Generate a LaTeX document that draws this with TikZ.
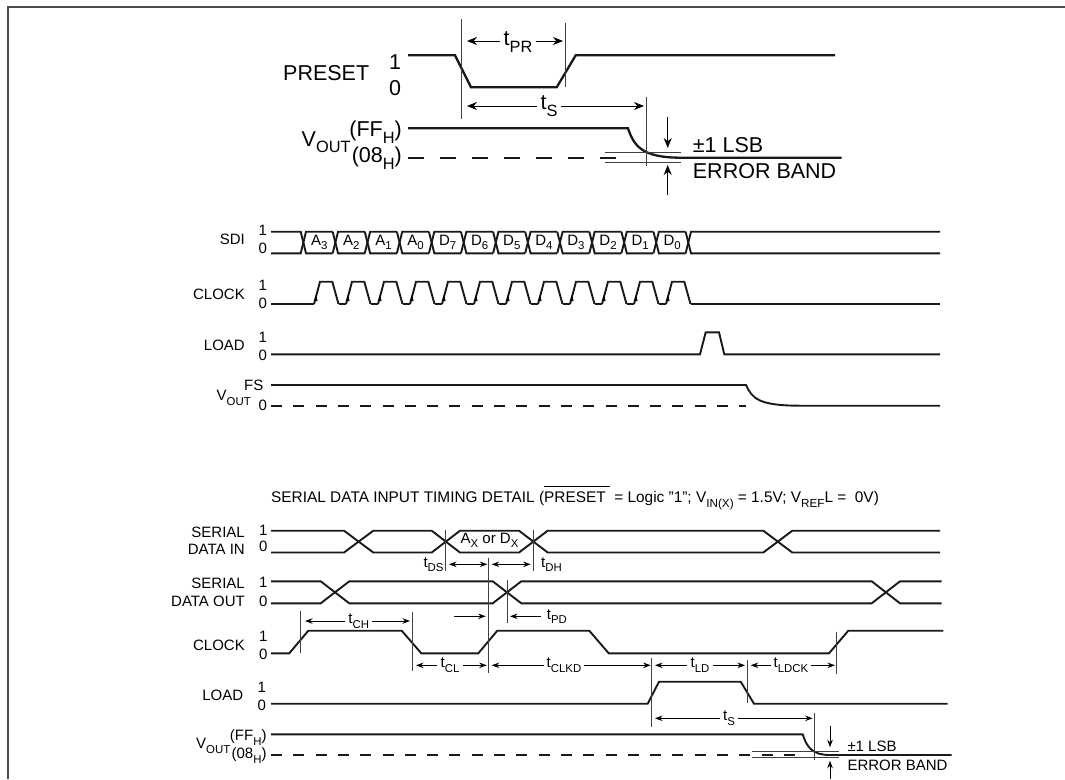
\documentclass[tikz,border=0pt]{standalone}
\usepackage{fontspec}
\usepackage{graphicx}
\setmainfont{Liberation Sans}
\usetikzlibrary{arrows.meta}
\newcommand{\lowsub}[1]{\raisebox{-0.3em}{\scalebox{0.76}{#1}}}
\tikzset{
	bigtext/.style={inner sep=0pt,font=\fontsize{21.5}{24}\selectfont},
	midtext/.style={inner sep=0pt,font=\fontsize{15}{18}\selectfont},
	titletext/.style={inner sep=0pt,font=\fontsize{15.4}{18}\selectfont},
	bigdim/.style={inner sep=3pt,font=\fontsize{21.5}{24}\selectfont},
	middim/.style={inner sep=3pt,font=\fontsize{15}{18}\selectfont},
	wave/.style={line width=1.9pt,line join=miter,black!90},
	bigwave/.style={line width=2.3pt,line join=miter,black!90},
	marker/.style={line width=1pt,black!75},
	bigtip/.style={line width=1pt,-{Stealth[length=10pt,width=8pt]}},
	smalltip/.style={line width=1pt,-{Stealth[length=7.5pt,width=5.5pt]}},
	bothtip/.style={line width=1pt,{Stealth[length=7.5pt,width=5.5pt]}-{Stealth[length=7.5pt,width=5.5pt]}},
}
\begin{document}
\begin{tikzpicture}[x=1pt,y=-1pt]
	\useasboundingbox (0,0) rectangle (1065,779);
	\draw[line width=2pt,black!70] (8,779) -- (8,6.5) -- (1065,6.5);

	\draw[bigwave] (408,55.3) -- (455,55.3) -- (471,87.3) -- (556.7,87.3) -- (575.7,55.3) -- (835,55.3);
	\draw[bigwave] (408,128.3) -- (628,128.3) .. controls (634,146) and (642,157.7) .. (681,157.7) -- (841.7,157.7);
	\draw[bigwave,dash pattern=on 16pt off 16pt] (408,157.7) -- (617,157.7);
	\draw[marker] (461.7,19.3) -- (461.7,118.7);
	\draw[marker] (565.3,22.7) -- (565.3,87);
	\draw[marker] (646,97) -- (646,166);
	\draw[marker] (605,152.5) -- (681,152.5);
	\draw[marker] (605,162.2) -- (681,162.2);
	\node[bigtext,anchor=west] (presetname) at (283,73) {PRESET};
	\node[bigtext] (presethigh) at (395,62.5) {1};
	\node[bigtext] (presetlow) at (395,88) {0};
	\node[bigtext,anchor=west] (voutname) at (301.5,142) {V\lowsub{OUT}};
	\node[bigtext,anchor=east] (vouthigh) at (402,132) {(FF\lowsub{H})};
	\node[bigtext,anchor=east] (voutlow) at (402,158) {(08\lowsub{H})};
	\node[bigdim] (tpr) at (518,42) {t\lowsub{PR}};
	\coordinate (prleft) at (467,41);
	\coordinate (prright) at (563,41);
	\draw[bigtip] (tpr.west |- prleft) -- (prleft);
	\draw[bigtip] (tpr.east |- prright) -- (prright);
	\node[bigdim] (tstop) at (549,106) {t\lowsub{S}};
	\coordinate (stopleft) at (467,106);
	\coordinate (stopright) at (644,106);
	\draw[bigtip] (tstop.west |- stopleft) -- (stopleft);
	\draw[bigtip] (tstop.east |- stopright) -- (stopright);
	\node[bigtext,anchor=west] (lsbtop) at (692.7,145) {±1 LSB};
	\node[bigtext,anchor=west] (bandtop) at (692.7,171) {ERROR BAND};
	\coordinate (bandup) at (667.7,116.7);
	\coordinate (bandupend) at (667.7,148);
	\coordinate (banddown) at (667.7,195);
	\coordinate (banddownend) at (667.7,165);
	\draw[bigtip] (bandup) -- (bandupend);
	\draw[bigtip] (banddown) -- (banddownend);

	\draw[wave] (271,231.7) -- (300.7,231.7) -- (306,253.3) -- (332.7,253.3);
	\draw[wave] (271,253.3) -- (300.7,253.3) -- (306,231.7) -- (332.7,231.7);
	\foreach \i in {1,...,11}
	{
		\pgfmathsetmacro{\xi}{303.3+32.08*\i};
		\pgfmathsetmacro{\xl}{\xi-2.7};
		\pgfmathsetmacro{\xr}{\xi+2.7};
		\pgfmathsetmacro{\xn}{\xi+32.08-2.7};
		\draw[wave] (\xl,231.7) -- (\xr,253.3) -- (\xn,253.3);
		\draw[wave] (\xl,253.3) -- (\xr,231.7) -- (\xn,231.7);
	}
	\draw[wave] (685.6,231.7) -- (691,253.3) -- (940,253.3);
	\draw[wave] (685.6,253.3) -- (691,231.7) -- (940,231.7);
	\foreach \i/\cell in {0/A\lowsub{3},1/A\lowsub{2},2/A\lowsub{1},3/A\lowsub{0},4/D\lowsub{7},5/D\lowsub{6},6/D\lowsub{5},7/D\lowsub{4},8/D\lowsub{3},9/D\lowsub{2},10/D\lowsub{1},11/D\lowsub{0}}
	{
		\pgfmathsetmacro{\xi}{319.3+32.08*\i};
		\node[midtext] (sdicell\i) at (\xi,242.5) {\cell};
	}
	\draw[wave] (271,304) -- (314,304);
	\foreach \i in {0,...,11}
	{
		\pgfmathsetmacro{\xa}{314+32*\i};
		\pgfmathsetmacro{\xb}{320+32*\i};
		\pgfmathsetmacro{\xc}{332.3+32*\i};
		\pgfmathsetmacro{\xd}{338.5+32*\i};
		\pgfmathsetmacro{\xe}{346+32*\i};
		\pgfmathsetmacro{\xt}{316.2+32*\i};
		\draw[wave] (\xa,304) -- (\xb,281.7) -- (\xc,281.7) -- (\xd,304);
		\ifnum\i<11 \draw[wave] (\xd,304) -- (\xe,304); \fi
		\fill (\xt,295) -- (\xt-2.2,301) -- (\xt+1.4,301) -- cycle;
	}
	\draw[wave] (690.5,304) -- (940,304);
	\draw[wave] (271,354.3) -- (700,354.3) -- (705.7,332.3) -- (719,332.3) -- (724.3,354.3) -- (940,354.3);
	\draw[wave] (271,385) -- (746,385) .. controls (752,398) and (758,405.7) .. (800,405.7) -- (940,405.7);
	\draw[wave,dash pattern=on 11pt off 11.3pt] (271,405.7) -- (746,405.7);
	\foreach \nm/\txt/\ya/\yb/\yc in {sdi/SDI/230/248/239,clk/CLOCK/285/303/294,load/LOAD/337/355/345}
	{
		\node[midtext] (\nm high) at (262.7,\ya) {1};
		\node[midtext] (\nm low) at (262.7,\yb) {0};
		\node[midtext,anchor=east] (\nm name) at (245,\yc) {\txt};
	}
	\node[midtext,anchor=east] (midfs) at (263.5,385.5) {FS};
	\node[midtext] (midzero) at (262.7,405) {0};
	\node[midtext,anchor=east] (midvout) at (251,398) {V\lowsub{OUT}};

	\node[titletext,anchor=base west] (detailtitle) at (271,502.5) {SERIAL DATA INPUT TIMING DETAIL ($\overline{\mbox{\rule{0pt}{15pt}PRESET\ }}$\ = Logic "1"; V\lowsub{IN(X)} = 1.5V; V\lowsub{REF}L =\ \ 0V)};

	\draw[wave] (271,552.5) -- (344,552.5) -- (373.3,530.7) -- (431.7,530.7) -- (460,552.5) -- (519,552.5) -- (547.7,530.7) -- (763.3,530.7) -- (792.3,552.5) -- (940,552.5);
	\draw[wave] (271,530.7) -- (344,530.7) -- (373.3,552.5) -- (431.7,552.5) -- (460,530.7) -- (519,530.7) -- (547.7,552.5) -- (763.3,552.5) -- (792.3,530.7) -- (940,530.7);
	\draw[wave] (271,581.3) -- (320.7,581.3) -- (349.3,603.3) -- (492.7,603.3) -- (521.3,581.3) -- (871.7,581.3) -- (900,603.3) -- (941.7,603.3);
	\draw[wave] (271,603.3) -- (320.7,603.3) -- (349.3,581.3) -- (492.7,581.3) -- (521.3,603.3) -- (871.7,603.3) -- (900,581.3) -- (941.7,581.3);
	\draw[wave] (271,653.3) -- (289.3,653.3) -- (308.3,630.7) -- (401.7,630.7) -- (421.3,653.3) -- (478.3,653.3) -- (497.3,630.7) -- (589.3,630.7) -- (608.7,653.3) -- (829,653.3) -- (848.3,630.7) -- (943.3,630.7);
	\draw[wave] (271,703.7) -- (647.7,703.7) -- (659,681.7) -- (740.7,681.7) -- (754,703.7) -- (947.7,703.7);
	\draw[wave] (271,734.3) -- (802.7,734.3) .. controls (807,748) and (813,755) .. (830,755) -- (951.7,755);
	\draw[wave,dash pattern=on 11pt off 11.3pt] (271,755) -- (797,755);
	\foreach \px/\ya/\yb in {300/610.7/653.3,412.3/612.3/671.3,445.7/530/570.7,533.3/530/570.7,488.7/558.3/673.3,507/580/622.7,651.7/658.3/727.3,747.3/660/702.7,836.3/631.7/674,814.7/712.7/760}
	{
		\draw[marker] (\px,\ya) -- (\px,\yb);
	}
	\draw[marker] (752.3,751) -- (839,751);
	\draw[marker] (752.3,757.7) -- (839,757.7);
	\node[midtext] (axdx) at (489.5,540.5) {A\lowsub{X} or D\lowsub{X}};
	\foreach \nm/\lbl/\cx/\ty/\lx/\rx in {ch/CH/358.7/621/305/410,cl/CL/450/665.3/416/486.7,clkd/CLKD/564/665.3/491.7/650.7,ld/LD/700/665.3/655/745,ldck/LDCK/791/665.3/750.7/835,sb/S/729/718.3/655/812.7}
	{
		\node[middim] (t\nm) at (\cx,\ty) {t\lowsub{\lbl}};
		\coordinate (\nm left) at (\lx,\ty);
		\coordinate (\nm right) at (\rx,\ty);
		\draw[smalltip] (t\nm.west |- \nm left) -- (\nm left);
		\draw[smalltip] (t\nm.east |- \nm right) -- (\nm right);
	}
	\node[midtext,anchor=west] (tds) at (423.3,564.5) {t\lowsub{DS}};
	\coordinate (dsleft) at (449,564.3);
	\coordinate (dsright) at (487.3,564.3);
	\draw[bothtip] (dsleft) -- (dsright);
	\node[midtext,anchor=west] (tdh) at (541,564.5) {t\lowsub{DH}};
	\coordinate (dhleft) at (491.7,564.3);
	\coordinate (dhright) at (530.7,564.3);
	\draw[bothtip] (dhleft) -- (dhright);
	\node[midtext,anchor=west] (tpd) at (546.7,616.5) {t\lowsub{PD}};
	\coordinate (pdstart) at (454.3,616.3);
	\coordinate (pdend) at (485.7,616.3);
	\coordinate (pdback) at (510,616.3);
	\draw[smalltip] (pdstart) -- (pdend);
	\draw[smalltip] ([xshift=-6pt]tpd.west |- pdback) -- (pdback);
	\coordinate (lowup) at (830,726);
	\coordinate (lowupend) at (830,747.3);
	\coordinate (lowdown) at (830,778.5);
	\coordinate (lowdownend) at (830,760.7);
	\draw[smalltip] (lowup) -- (lowupend);
	\draw[smalltip] (lowdown) -- (lowdownend);
	\node[midtext,anchor=west] (lsbbottom) at (847.3,746) {±1 LSB};
	\node[midtext,anchor=west] (bandbottom) at (847.3,765) {ERROR BAND};
	\foreach \nm/\ya/\yb/\nx in {sdin/530/546.7/263.3,sdout/582.7/601/263.3,clock/636/654/263.3,loadb/687.7/705.7/261.7}
	{
		\node[midtext] (\nm high) at (\nx,\ya) {1};
		\node[midtext] (\nm low) at (\nx,\yb) {0};
	}
	\node[midtext,anchor=east] (sdina) at (245,532) {SERIAL};
	\node[midtext,anchor=east] (sdinb) at (245,549) {DATA IN};
	\node[midtext,anchor=east] (sdouta) at (245,583.3) {SERIAL};
	\node[midtext,anchor=east] (sdoutb) at (245,601.7) {DATA OUT};
	\node[midtext,anchor=east] (clockname) at (245,645) {CLOCK};
	\node[midtext,anchor=east] (loadname) at (243.3,695.7) {LOAD};
	\node[midtext,anchor=west] (lowvout) at (196,746) {V\lowsub{OUT}};
	\node[midtext,anchor=east] (lowff) at (266.7,737.5) {(FF\lowsub{H})};
	\node[midtext,anchor=east] (low08) at (266.7,755.5) {(08\lowsub{H})};
\end{tikzpicture}
\end{document}
